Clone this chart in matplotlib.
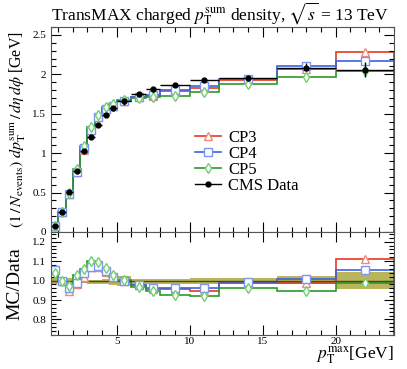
import numpy as np
import matplotlib
matplotlib.use("Agg")
import matplotlib.pyplot as plt
from matplotlib.ticker import MultipleLocator
from matplotlib.lines import Line2D

plt.rcParams["font.family"] = ["Liberation Serif", "DejaVu Serif"]
plt.rcParams["mathtext.fontset"] = "stix"

# bin edges in pT max [GeV]
edges = np.array([0.5, 1.0, 1.5, 2.0, 2.5, 3.0, 3.5, 4.0, 4.5, 5.0,
                  6.0, 7.0, 8.0, 10.0, 12.0, 16.0, 20.0, 24.0])

data = np.array([0.073, 0.25, 0.505, 0.77, 1.025, 1.21, 1.36, 1.49, 1.57,
                 1.66, 1.755, 1.81, 1.87, 1.93, 1.953, 2.085, 2.06])
# relative data uncertainty (band in ratio panel)
rel_lo = np.array([0.98, 0.98, 0.985, 0.99, 0.99, 0.985, 0.98, 0.98, 0.975,
                   0.97, 0.975, 0.98, 0.98, 0.985, 0.98, 0.98, 0.955])
rel_hi = np.array([1.02, 1.02, 1.015, 1.01, 1.01, 1.005, 1.005, 1.01, 1.01,
                   1.025, 1.01, 1.01, 1.01, 1.015, 1.015, 1.025, 1.045])

cp3 = np.array([0.077, 0.25, 0.477, 0.755, 1.046, 1.295, 1.455, 1.557, 1.601,
                1.66, 1.711, 1.729, 1.786, 1.824, 1.924, 2.064, 2.287])
cp4 = np.array([0.077, 0.25, 0.485, 0.762, 1.066, 1.295, 1.462, 1.565, 1.601,
                1.66, 1.711, 1.738, 1.801, 1.853, 1.943, 2.106, 2.173])
cp5 = np.array([0.076, 0.25, 0.490, 0.793, 1.087, 1.331, 1.489, 1.587, 1.617,
                1.668, 1.694, 1.710, 1.730, 1.776, 1.875, 1.970, 2.039])

centers = 0.5 * (edges[1:] + edges[:-1])
halfw = 0.5 * (edges[1:] - edges[:-1])

styles = [("CP3", cp3, "#e23a22", "#f28a78", "^"),
          ("CP4", cp4, "#3a62e4", "#7b95f0", "s"),
          ("CP5", cp5, "#2a9a2a", "#72cf72", "d")]
MS = 5.5

fig = plt.figure(figsize=(4.07, 3.69), dpi=100)
ax = fig.add_axes([0.1253, 0.3713, 0.8428, 0.5556])
rax = fig.add_axes([0.1253, 0.0921, 0.8428, 0.2792], sharex=ax)

handles = []
for name, vals, lc, mc, mk in styles:
    ax.stairs(vals, edges, color=lc, lw=1.2)
    ax.plot(centers, vals, ls="none", marker=mk, ms=MS, mfc="white",
            mec=mc, mew=1.0)
    handles.append(Line2D([], [], color=lc, lw=1.2, marker=mk, ms=MS,
                          mfc="white", mec=mc, mew=1.0, label=name))

ax.errorbar(centers, data, xerr=halfw,
            yerr=[data * (1 - rel_lo), data * (rel_hi - 1)],
            fmt="o", color="black", ms=3.5, elinewidth=1.0, capsize=0)
handles.append(Line2D([], [], color="black", lw=1.0, marker="o", ms=3.5,
                      label="CMS Data"))

ax.set_xlim(0.5, 24)
ax.set_ylim(0, 2.6)
ax.yaxis.set_minor_locator(MultipleLocator(0.1))
ax.set_yticks([0, 0.5, 1, 1.5, 2, 2.5])
ax.set_yticklabels(["0", "0.5", "1", "1.5", "2", "2.5"])
ax.tick_params(labelbottom=False)
ax.set_ylabel(r"$(1\,/\,N_{\mathrm{events}})\ dp_{\mathrm{T}}^{\mathrm{sum}}\,/\,d\eta\,d\phi$ [GeV]",
              fontsize=11.5, labelpad=3)
ax.set_title(r"TransMAX charged $p_{\mathrm{T}}^{\mathrm{sum}}$ density, $\sqrt{s}$ = 13 TeV",
             fontsize=12.5, pad=5, loc="left")
ax.legend(handles=handles, loc="upper left", bbox_to_anchor=(0.395, 0.54),
          frameon=False, fontsize=12, handlelength=1.6, handletextpad=0.4,
          labelspacing=0.0, borderpad=0)

# ratio panel
rax.stairs(rel_hi, edges, baseline=rel_lo, fill=True, color="#b3ad4a",
           alpha=0.9, lw=0)
rax.axhline(1.0, color="#4a4a20", lw=1.0)
for name, vals, lc, mc, mk in styles:
    r = vals / data
    rax.stairs(r, edges, color=lc, lw=1.2)
    rax.plot(centers, r, ls="none", marker=mk, ms=MS, mfc="white",
             mec=mc, mew=1.0)

rax.set_ylim(0.72, 1.25)
rax.yaxis.set_minor_locator(MultipleLocator(0.02))
rax.set_yticks([0.8, 0.9, 1.0, 1.1, 1.2])
rax.set_yticklabels(["0.8", "0.9", "1.0", "1.1", "1.2"])
rax.xaxis.set_major_locator(MultipleLocator(5))
rax.xaxis.set_minor_locator(MultipleLocator(1))
rax.set_ylabel("MC/Data", fontsize=14, labelpad=6)
rax.set_xlabel(r"$p_{\mathrm{T}}^{\mathrm{max}}$[GeV]", fontsize=12.5,
               loc="right", labelpad=-1)

for a in (ax, rax):
    a.tick_params(which="both", direction="in", top=True, right=True,
                  labelsize=8, width=0.8)
    a.tick_params(which="major", length=7)
    a.tick_params(which="minor", length=3.5)
    for s in a.spines.values():
        s.set_linewidth(0.8)
        s.set_color("#555555")
rax.tick_params(axis="x", pad=1.5)

fig.savefig("out.png", dpi=100)
